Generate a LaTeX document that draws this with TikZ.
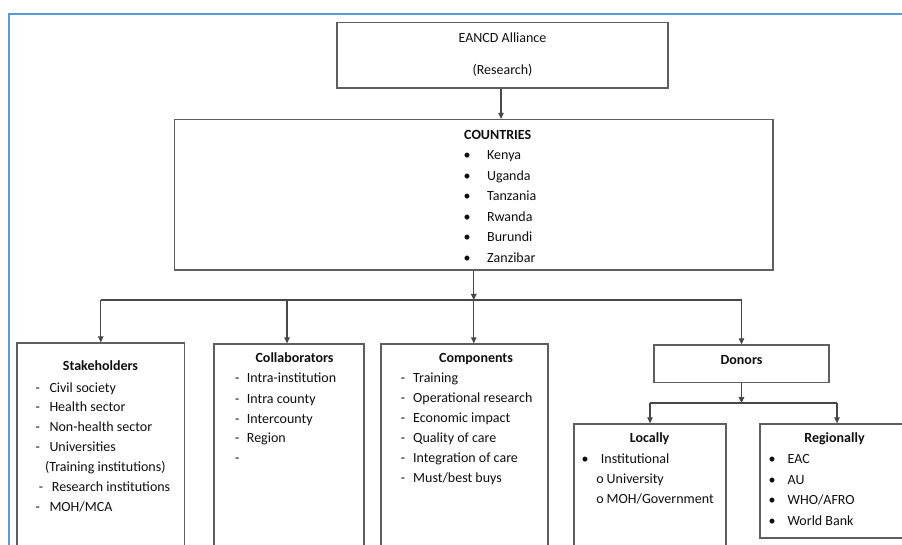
\documentclass[tikz,border=0pt]{standalone}
\usepackage{fontspec}
\setmainfont{Carlito}
\usetikzlibrary{arrows.meta}
\definecolor{frameblue}{RGB}{91,155,213}
\definecolor{boxgray}{RGB}{95,95,95}
\definecolor{txtc}{RGB}{15,15,15}
\begin{document}
\begin{tikzpicture}[x=1pt,y=-1pt,
  box/.style={draw=boxgray, line width=1.3pt, rectangle, inner sep=0pt},
  conn/.style={draw=black!72, line width=1.1pt},
  arr/.style={conn, -{Triangle[length=6pt,width=5.5pt]}},
  txt/.style={text=txtc, font=\fontsize{14}{17}\selectfont, inner sep=0pt, anchor=mid west, yshift=-2pt},
  ctxt/.style={txt, anchor=mid},
  head/.style={txt, font=\fontsize{14}{17}\selectfont\bfseries, anchor=mid},
  lhead/.style={txt, font=\fontsize{14}{17}\selectfont\bfseries},
]
\useasboundingbox (0,0) rectangle (902,545);
\clip (0,0) rectangle (902,545);
\fill[white] (0,0) rectangle (902,545);
% outer frame
\draw[frameblue, line width=2pt] (8.5,560) -- (8.5,14) -- (910,14);

% boxes
\node[box, minimum width=331pt, minimum height=65.5pt] (ea) at (502.5,55.25) {};
\node[box, minimum width=598.5pt, minimum height=150.5pt] (co) at (473.75,194.75) {};
\node[box, minimum width=167.5pt, minimum height=227pt] (st) at (100.75,456.5) {};
\node[box, minimum width=150pt, minimum height=226pt] (cl) at (289,457) {};
\node[box, minimum width=167pt, minimum height=226pt] (cp) at (464.5,457) {};
\node[box, minimum width=175pt, minimum height=37.5pt] (dn) at (741.5,363.75) {};
\node[box, minimum width=152pt, minimum height=146pt] (lo) at (650,497) {};
\node[box, minimum width=154pt, minimum height=114pt] (rg) at (837,481) {};

% EANCD texts
\node[ctxt] (ea1) at (502.5,38) {EANCD Alliance};
\node[ctxt] (ea2) at (502.5,70.5) {(Research)};

% COUNTRIES
\node[lhead] (coh) at (464,135) {COUNTRIES};
\foreach \n/\t/\y in {k/Kenya/155, u/Uganda/175.7, t/Tanzania/196, r/Rwanda/216.7, b/Burundi/237.3, z/Zanzibar/257.7}{
  \node[ctxt] (cb\n) at (467,\y) {\textbullet};
  \node[txt] (ct\n) at (487,\y) {\t};
}

% Stakeholders
\node[head] (sth) at (100.5,366.5) {Stakeholders};
\foreach \n/\t/\y in {a/Civil society/387.7, b/Health sector/407.3, c/Non-health sector/427, d/Universities/446.7, g/MOH\slash MCA/507.3}{
  \node[ctxt] (sd\n) at (37.7,\y) {-};
  \node[txt] (st\n) at (49.3,\y) {\t};
}
\node[txt] (ste) at (45,466.7) {(Training institutions)};
\node[ctxt] (sdf) at (41,487) {-};
\node[txt] (stf) at (51.7,487) {Research institutions};

% Collaborators
\node[head] (clh) at (294.5,358.3) {Collaborators};
\foreach \n/\t/\y in {a/Intra-institution/378.3, b/Intra county/399, c/Intercounty/419, d/Region/437.7}{
  \node[ctxt] (cd\n) at (237.3,\y) {-};
  \node[txt] (ctl\n) at (246.7,\y) {\t};
}
\node[ctxt] (cde) at (237.3,458.3) {-};

% Components
\node[head] (cph) at (476,358.3) {Components};
\foreach \n/\t/\y in {a/Training/378.3, b/Operational research/397.7, c/Economic impact/418.3, d/Quality of care/437.7, e/Integration of care/457.7, f/Must\slash best buys/478.3}{
  \node[ctxt] (pd\n) at (403,\y) {-};
  \node[txt] (pt\n) at (413,\y) {\t};
}

% Donors
\node[head] (dnh) at (741.5,360) {Donors};

% Locally
\node[head] (loh) at (649.6,438) {Locally};
\node[ctxt] (lb1) at (585,459) {\textbullet};
\node[txt] (lt1) at (600.7,459) {Institutional};
\node[ctxt] (lo2) at (600,479) {o};
\node[txt] (lt2) at (606.5,479) {University};
\node[ctxt] (lo3) at (600,499.5) {o};
\node[txt] (lt3) at (606.5,499.5) {MOH\slash Government};

% Regionally
\node[head] (rgh) at (834.5,438.3) {Regionally};
\foreach \n/\t/\y in {a/EAC/459.3, b/AU/480, c/WHO\slash AFRO/500, d/World Bank/520.7}{
  \node[ctxt] (rb\n) at (772,\y) {\textbullet};
  \node[txt] (rt\n) at (787.4,\y) {\t};
}

% connectors
\draw[arr] (ea.south -| 501,0) -- (co.north -| 501,0);
\coordinate (hy) at (0,300);
\coordinate (hub) at (co.south |- hy);
\draw[arr] (co.south) -- (hub);
\draw[conn] (st.north |- hy) -- (dn.north |- hy);
\draw[arr] (st.north |- hy) -- (st.north);
\draw[arr] (287,300) -- (cl.north -| 287,0);
\draw[arr] (hub) -- (hub |- cp.north);
\draw[arr] (dn.north |- hy) -- (dn.north);
\coordinate (dy) at (0,403);
\coordinate (dhub) at (dn.south |- dy);
\draw[arr] (dn.south) -- (dhub);
\draw[conn] (lo.north |- dy) -- (rg.north |- dy);
\draw[arr] (lo.north |- dy) -- (lo.north);
\draw[arr] (rg.north |- dy) -- (rg.north);
\end{tikzpicture}
\end{document}
